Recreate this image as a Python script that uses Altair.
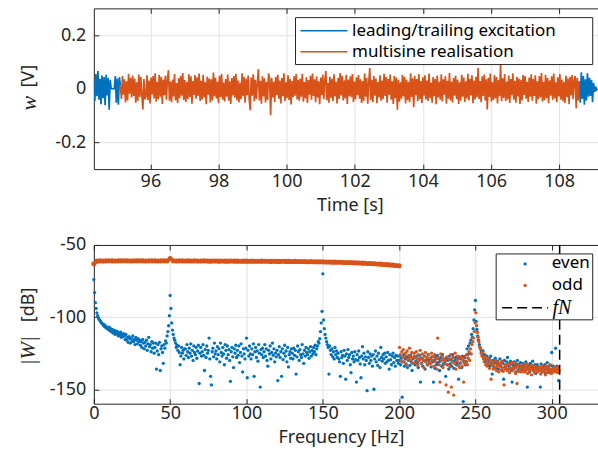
import altair as alt
import numpy as np
import pandas as pd

# ---------------- time-domain record (values in mV) ----------------
t_start = 94.34      # s, first sample visible
dt = 0.03            # s, spacing of the plotted samples

lead_mv = [30, -46, 55, -28, 66, -41, 37, -58, 49, -35, 44, -62, 52, -25, 40,
           -78, 33, 0, 0, 0, 0, 47, -52, 38, -60, 43, 12]

multisine_mv = [
    12, -38, 47, -22, 35, -51, 28, -44, 56, -19, 41, -33, 49, -27, 38, -52, 24, -46, 53, -31, 44, -25, -77, 36, -40,
    -28, 50, -43, 31, -55, 42, -21, 47, -36, 58, -48, 26, -39, 52, -30, 45, -57, 33, -24, 49, -41, 37, 69, -45, 27,
    -50, 34, -29, 55, -44, 21, -53, 40, -35, 48, -26, 59, -42, 32, -49, 25, -38, 54, -31, 46, -56, 29, -23, 51, -37,
    43, -27, 57, -46, 30, -40, 52, -33, 24, -58, 45, -22, 38, -51, 35, -44, 60, -29, 41, -36, 26, -54, 48, -32, 55,
    -41, 23, -48, 36, -30, 53, -45, 28, -57, 40, -25, 47, -34, 56, -43, 31, -50, 22, -39, 58, -28, 44, -52, 37, -24,
    49, -35, -80, 42, -26, 54, -47, 33, -38, 21, 73, -44, 30, -56, 46, -29, 39, -51, 25, -42, 57, 34, -99, 41, -33,
    27, -49, 44, -23, 52, -37, 31, -55, 40, -28, 58, -46, 24, -35, 50, -42, 36, -59, 29, -31, 47, -26, 55, -40, 33,
    -45, 38, -30, 56, -48, 25, -36, 43, -53, 32, -22, 49, -41, 57, -27, 35, -50, 46, -33, 28, -58, 42, -24, 53, -39,
    30, 66, -43, 22, -52, 45, -34, 37, -47, 54, -29, 26, -55, 41, -38, 59, -25, 48, -44, 31, -36, 52, -57, 34, -28,
    46, -32, 55, -49, 27, -40, 43, -24, 51, -37, 35, -53, 29, -46, 57, -30, 40, -56, 23, 77, -42, 32, -50, 47, -26,
    38, -54, 25, -33, 50, -45, 31, -39, 56, -27, 44, -52, 36, -22, 53, -41, 28, -57, 47, -35, 42, -78, 33, -48, 24,
    -37, 52, -29, 45, -55, 34, -43, 26, -50, 58, -31, 39, -69, 48, -24, 36, -47, 55, -38, 29, -53, 43, -26, 50, -40,
    31, -46, 57, -35, 23, -52, 44, -28, 37, -58, 49, -33, 26, -41, 54, -48, 35, -22, 46, -56, 30, -37, 59, -44, 27,
    -51, 40, -26, 48, -39, 33, -57, 24, -45, 52, -30, 42, -49, 28, -36, 56, -43, 37, -25, 50, -54, 31, -40, 45, -32,
    77, -38, 29, -50, 46, -27, 53, -44, 35, -77, 41, -31, 57, -48, 24, -42, 51, -36, 44, -55, 32, -28, 90, -47, 39,
    -34, 55, -46, 27, -40, 49, -53, 36, -25, 58, -41, 30, -52, 45, -29, 38, -57, 33, -44, 51, -23, 47, -37, 26, -49,
    42, -30, 54, -45, 36, -27, 50, -56, 28, -39, 47, -33, 59, -48, 25, -43, 52, -35, 40, -54, 31, -26, 46, -42, 57,
    -36, 24, -50, 43, -29, 55, -41, 34, -47, 26, -53, 48, -32, 38, -58, 45, -25, 51, -39, 30, 47, -73, 40, -44, 28,
]

trail_mv = [28, -52, 61, -38, 47, -60, 35, -44, 58, -30, 41, -27, 33, -50, 22,
            -12, 8, -4, 0]

# ---------------- spectrum (dB) ----------------
even_df_hz = 0.5                     # even lines, 0 ... 304.5 Hz
even_db = [
    -74, -83, -90, -94, -97, -99, -100.5, -101.5, -102.5, -103, -104, -104.5, -105.5, -105, -106.5, -106, -107.5, -107, -108, -108.5,
    -107, -109.5, -108, -110, -108.5, -111, -109, -110.5, -112, -109.5, -111.5, -110, -113, -111, -112.5, -110.5, -114, -112, -113.5, -111.5,
    -113, -115.5, -112, -116, -114, -117.5, -113.5, -115, -118, -114.5, -116.5, -113, -117, -115.5, -119, -114, -116, -118.5, -115, -117,
    -116, -119.5, -117, -121, -115.5, -118, -122, -117.5, -120, -116, -123, -118.5, -114, -120.5, -119, -124, -117, -121.5, -118, -125,
    -121, -118, -136, -123.5, -119, -126, -117.5, -137, -122, -120, -124.5, -132, -119, -121.5, -116.5, -118, -113, -110, -106, -99,
    -85, -94, -104, -109, -112, -114.5, -116, -118, -121, -119.5, -123, -120, -124.5, -133, -127, -121, -125, -123, -129, -122,
    -122, -126.5, -119, -124, -128, -121.5, -125, -118.5, -127, -123, -130, -120, -124.5, -126, -121, -128.5, -123.5, -119.5, -146, -125,
    -121, -127, -124, -119, -126.5, -137, -122.5, -128, -120, -125, -123, -114.5, -129, -141, -147, -124, -121.5, -127.5, -118, -125.5,
    -123.5, -129, -120.5, -126, -122, -131, -118, -124.5, -127, -121, -125.5, -133, -119, -123, -128.5, -120, -126, -122.5, -130, -144.5,
    -124, -121, -127.5, -135, -122, -125, -119.5, -128, -123, -126.5, -120, -131.5, -124.5, -118.5, -127, -138, -122, -125.5, -129, -121.5,
    -114.5, -142, -123, -127, -120, -125.5, -129, -122, -126, -118.5, -141, -124, -121, -128, -123.5, -130.5, -119, -125, -148.5, -122.5,
    -126, -121.5, -128, -124, -119, -127, -122, -130, -134, -123, -125.5, -120, -129, -124.5, -118, -126.5, -122, -131, -125, -127.5,
    -123, -144, -126, -120.5, -128, -124, -141, -122, -129.5, -125, -119.5, -127, -123.5, -131, -121, -134.5, -126, -124, -128.5, -122,
    -125, -129, -121.5, -126.5, -123, -139.5, -127.5, -120, -124, -130, -122.5, -126, -128, -119, -125.5, -132, -123, -127, -121, -124.5,
    -126, -122, -128.5, -124, -120.5, -127, -123, -125.5, -121, -124, -119.5, -126, -122, -120, -117, -118, -115, -110, -104, -96,
    -70, -102, -108, -112, -114.5, -117, -119, -121, -139.5, -120, -123, -126, -122, -127.5, -124, -129, -121, -126, -123.5, -128,
    -125, -129, -131, -141, -124, -128, -126.5, -132, -123, -127, -143, -125.5, -130, -122.5, -128, -126, -133, -138.5, -124.5, -129,
    -127, -131, -124, -129.5, -145, -126, -130, -123.5, -128, -132.5, -142, -127, -120.5, -129, -125, -133, -127.5, -130, -151, -124,
    -128, -132, -125.5, -130, -127, -134, -126, -150, -129, -123.5, -131, -127, -133.5, -125, -129.5, -135, -121, -128, -130.5, -126,
    -129, -125, -132, -127.5, -131, -124.5, -130, -136, -126, -129.5, -133, -127, -125, -131.5, -128, -134, -126.5, -130, -127, -132,
    -130, -127, -133, -128.5, -155.5, -131, -126, -134, -129, -132.5, -127.5, -135, -130, -128, -133.5, -126.5, -131, -137, -129, -132,
    -128, -133, -130.5, -127, -131.5, -135, -129, -126.5, -145, -132, -128.5, -134, -130, -127, -136, -131, -129.5, -133, -126, -130,
    -132, -129, -134.5, -127.5, -131, -145, -130, -135.5, -128, -133, -126.5, -131.5, -129, -137, -130.5, -128, -134, -126, -132.5, -129,
    -131, -141, -128.5, -133, -130, -136, -127, -132.5, -129.5, -134, -126, -131, -135.5, -130, -128, -133, -131.5, -129, -143, -127.5,
    -132, -129, -135, -127, -158.5, -130.5, -128, -133, -131, -122, -126, -120, -125, -118, -116, -112, -114, -108, -102, -95,
    -88.5, -103, -108.5, -113, -116, -119, -121, -122.5, -124, -126, -123.5, -128, -126, -129.5, -131, -127, -133, -130, -128.5, -134,
    -127, -132, -139.5, -130, -134.5, -131, -128.5, -135, -132, -130.5, -136, -133, -129, -134, -131.5, -137, -132, -143, -130, -135,
    -133.5, -131, -128, -136, -134, -132, -130.5, -137, -145, -133, -135.5, -131, -134, -138, -132.5, -130, -136.5, -133, -135, -131.5,
    -134, -136.5, -132, -135, -133, -137.5, -131, -134.5, -148.5, -136, -133.5, -138, -132, -135.5, -134, -130.5, -137, -135, -133, -139,
    -135, -133, -137, -134.5, -136, -148.5, -132.5, -138, -135.5, -134, -136.5, -133, -139, -135, -131.5, -137, -134, -136, -138.5, -133.5,
    -124.5, -136, -134, -137.5, -135, -121.5, -136.5, -134, -138, -144,
]

odd_line_df_hz = 2.0                 # excited odd lines, 0 ... 200 Hz
odd_line_db = [
    -63.0, -61.2, -61.0, -61.1, -61.0, -60.9, -61.0, -61.1, -61.0, -61.0,
    -60.9, -61.0, -61.1, -61.0, -61.0, -60.9, -61.0, -61.1, -61.0, -61.0,
    -61.0, -61.1, -61.0, -60.9, -61.0, -59.4, -61.0, -61.1, -61.0, -61.0,
    -61.1, -61.0, -61.1, -61.0, -61.1, -61.1, -61.0, -61.1, -61.2, -61.1,
    -61.1, -61.2, -61.1, -61.2, -61.2, -61.1, -61.2, -61.2, -61.3, -61.2,
    -61.2, -61.3, -61.2, -61.3, -61.3, -61.2, -61.3, -61.3, -61.4, -61.3,
    -61.4, -61.4, -61.3, -61.4, -61.4, -61.5, -61.4, -61.5, -61.5, -61.5,
    -61.6, -61.5, -61.6, -61.6, -61.7, -61.7, -61.8, -61.8, -61.9, -61.9,
    -62.0, -62.0, -62.1, -62.2, -62.2, -62.3, -62.4, -62.5, -62.6, -62.7,
    -62.8, -62.9, -63.0, -63.2, -63.3, -63.5, -63.6, -63.8, -64.0, -64.2,
    -64.4,
]

odd_noise_f0 = 200.25                # non-excited odd lines above 200 Hz
odd_noise_df_hz = 0.5
odd_noise_db = [
    -121, -126, -130.5, -124, -128, -122.5, -131, -127, -125, -133, -123.5, -129, -126.5, -121.5, -130, -127.5, -124.5, -132, -128, -125,
    -127, -131.5, -124, -129, -133.5, -126, -130, -123, -128.5, -132, -125.5, -129.5, -135, -127, -124.5, -130.5, -128, -133, -126, -131,
    -128.5, -132, -125, -130, -127.5, -134, -126, -131, -129, -136, -114.5, -128, -133, -145, -125.5, -130, -127, -135, -129.5, -132.5,
    -130, -147, -127.5, -133, -152, -129, -134.5, -126, -148.5, -131, -128, -154, -132, -125, -136, -130.5, -127, -133.5, -129, -135,
    -131.5, -128, -134, -129.5, -145, -132, -127, -130.5, -126, -133, -128.5, -124, -130, -122, -125.5, -119, -117, -114.5, -110, -104,
    -97, -106, -110.5, -114, -117, -120.5, -122, -125, -127, -124.5, -129, -131, -127.5, -133, -130, -134, -128.5, -132, -135.5, -130,
    -143, -133, -131, -136, -132.5, -135, -130, -137, -133.5, -131.5, -138, -134, -132, -136.5, -130.5, -135, -137.5, -147, -133, -136,
    -134, -137, -132.5, -136, -138.5, -133, -135.5, -131.5, -137, -134.5, -136, -132, -139, -135, -146, -133.5, -137.5, -134, -136.5, -138,
    -135, -137.5, -133, -136, -138, -134.5, -136.5, -132.5, -139, -135, -137, -134, -136, -140, -133.5, -137, -135.5, -138.5, -134, -136.5,
    -136, -138, -134.5, -137, -135, -139.5, -136.5, -133.5, -138, -135.5, -137, -140, -134, -136.5, -138.5, -135, -137.5, -133, -136, -139,
    -137, -135.5, -138, -136, -134.5, -137.5, -136, -138.5, -135, -137,
]

f_nyquist = 305.18

time_ticks = [96, 98, 100, 102, 104, 106, 108]
w_ticks = [-0.2, 0, 0.2]
freq_ticks = [0, 50, 100, 150, 200, 250, 300]
db_ticks = [-150, -100, -50]

top_legend_labels = ["leading/trailing excitation", "multisine realisation"]
bottom_legend_labels = ["even", "odd", "fN"]

# ---------------- styling ----------------
BLUE = "#0072BD"
ORANGE = "#D95319"
AXIS = "#262626"
GRID = "#e2e2e2"
SANS = "Noto Sans"
MATH = "Liberation Serif"
FS = 18
LFS = 17
W = 505
H1 = 161
H2 = 159

# ---------------- tables ----------------
k_lead = np.arange(len(lead_mv))
k_multi = np.arange(len(multisine_mv)) + len(lead_mv) - 1
k_trail = np.arange(len(trail_mv)) + k_multi[-1]


def seg(k, mv, name):
    return pd.DataFrame({"t": t_start + dt * k, "w": np.array(mv, dtype=float) / 1000.0, "seg": name})


blue_df = pd.concat([seg(k_lead, lead_mv, "lead"), seg(k_trail, trail_mv, "trail")], ignore_index=True)
multi_df = seg(k_multi, multisine_mv, "multi")

even_tbl = pd.DataFrame({"f": even_df_hz * np.arange(len(even_db)), "db": even_db})
odd_line_tbl = pd.DataFrame({"f": odd_line_df_hz * np.arange(len(odd_line_db)), "db": odd_line_db})
odd_noise_tbl = pd.DataFrame({"f": odd_noise_f0 + odd_noise_df_hz * np.arange(len(odd_noise_db)), "db": odd_noise_db})
fn_tbl = pd.DataFrame({"f": [f_nyquist]})
one = pd.DataFrame({"n": [0]})


def main_axis(vals, orient, pad):
    return alt.Axis(values=vals, orient=orient, title=None, grid=True, gridColor=GRID, gridWidth=1,
                    domain=True, domainColor=AXIS, domainWidth=1, ticks=False,
                    labels=True, labelFont=SANS, labelFontSize=FS, labelColor=AXIS,
                    labelPadding=pad, labelFlush=False, labelOverlap=False,
                    labelExpr="toString(datum.value)")


def tick_axis(vals, orient, offset, domain=False):
    return alt.Axis(values=vals, orient=orient, offset=offset, title=None, grid=False,
                    labels=False, ticks=True, tickSize=5, tickColor=AXIS, tickWidth=1,
                    domain=domain, domainColor=AXIS, domainWidth=1)


def txt(text, x, y, font=SANS, size=FS, style="normal", align="left", angle=0, color="black"):
    kw = dict(text=text, font=font, fontSize=size, fontStyle=style, align=align,
              baseline="middle", color=color)
    if angle:
        kw["angle"] = angle
    return alt.Chart(one).mark_text(**kw).encode(x=alt.value(x), y=alt.value(y))


# ---------------- top panel ----------------
xs_t = alt.Scale(domain=[94.34, 109.14], nice=False, zero=False)
ys_t = alt.Scale(domain=[-0.3, 0.3], nice=False, zero=False)

blue_line = alt.Chart(blue_df).mark_line(color=BLUE, strokeWidth=1.7, clip=True).encode(
    x=alt.X("t:Q", scale=xs_t, axis=main_axis(time_ticks, "bottom", 3)),
    y=alt.Y("w:Q", scale=ys_t, axis=main_axis(w_ticks, "left", 8)),
    detail="seg:N",
)
multi_line = alt.Chart(multi_df).mark_line(color=ORANGE, strokeWidth=1.7, clip=True).encode(
    x=alt.X("t:Q", scale=xs_t, axis=tick_axis(time_ticks, "top", -H1)),
    y=alt.Y("w:Q", scale=ys_t, axis=tick_axis(w_ticks, "right", -W)),
)
frame_top = alt.Chart(multi_df.head(1)).mark_point(opacity=0).encode(
    x=alt.X("t:Q", scale=xs_t, axis=tick_axis(time_ticks, "bottom", -H1, domain=True)),
    y=alt.Y("w:Q", scale=ys_t, axis=None),
)
leg_box_top = alt.Chart(one).mark_rect(fill="white", stroke=AXIS, strokeWidth=1).encode(
    x=alt.value(202), x2=alt.value(499.7), y=alt.value(9.3), y2=alt.value(56.3))
leg_l1 = alt.Chart(one).mark_rule(color=BLUE, strokeWidth=1.5).encode(
    x=alt.value(207), x2=alt.value(254), y=alt.value(22.5))
leg_l2 = alt.Chart(one).mark_rule(color=ORANGE, strokeWidth=1.5).encode(
    x=alt.value(207), x2=alt.value(254), y=alt.value(43.5))

top = alt.layer(
    blue_line, multi_line, frame_top, leg_box_top, leg_l1, leg_l2,
    txt(top_legend_labels[0], 258.7, 22.5, size=LFS),
    txt(top_legend_labels[1], 258.7, 43.5, size=LFS),
    txt("[V]", -65, 68, angle=270, align="center", color=AXIS),
    txt("w", -65, 95, font=MATH, size=22, style="italic", angle=270, align="center", color=AXIS),
    txt("Time [s]", 257, 198, align="center", color=AXIS),
).properties(width=W, height=H1).resolve_axis(x="independent", y="independent")

# ---------------- bottom panel ----------------
xs_f = alt.Scale(domain=[0, 330.3], nice=False, zero=False)
ys_f = alt.Scale(domain=[-160, -50], nice=False, zero=False)

even_pts = alt.Chart(even_tbl).mark_circle(color=BLUE, size=11, opacity=1).encode(
    x=alt.X("f:Q", scale=xs_f, axis=main_axis(freq_ticks, "bottom", 1)),
    y=alt.Y("db:Q", scale=ys_f, axis=main_axis(db_ticks, "left", 8)),
)
odd_noise_pts = alt.Chart(odd_noise_tbl).mark_circle(color=ORANGE, size=11, opacity=1).encode(
    x=alt.X("f:Q", scale=xs_f, axis=tick_axis(freq_ticks, "top", -H2)),
    y=alt.Y("db:Q", scale=ys_f, axis=tick_axis(db_ticks, "right", -W)),
)
odd_line_pts = alt.Chart(odd_line_tbl).mark_circle(color=ORANGE, size=26, opacity=1).encode(
    x=alt.X("f:Q", scale=xs_f, axis=tick_axis(freq_ticks, "bottom", -H2, domain=True)),
    y=alt.Y("db:Q", scale=ys_f, axis=None),
)
fn_rule = alt.Chart(fn_tbl).mark_rule(color="black", strokeDash=[10, 5], strokeWidth=1.5).encode(
    x=alt.X("f:Q", scale=xs_f, axis=None))

leg_box_bot = alt.Chart(one).mark_rect(fill="white", stroke=AXIS, strokeWidth=1).encode(
    x=alt.value(403), x2=alt.value(499.7), y=alt.value(9), y2=alt.value(75))
leg_even = alt.Chart(one).mark_circle(color=BLUE, size=11, opacity=1).encode(
    x=alt.value(432), y=alt.value(19))
leg_odd = alt.Chart(one).mark_circle(color=ORANGE, size=11, opacity=1).encode(
    x=alt.value(432), y=alt.value(40.5))
leg_fn = alt.Chart(one).mark_rule(color="black", strokeDash=[10, 5], strokeWidth=1.5).encode(
    x=alt.value(409), x2=alt.value(455), y=alt.value(63))

bottom = alt.layer(
    even_pts, odd_noise_pts, odd_line_pts, fn_rule, leg_box_bot, leg_even, leg_odd, leg_fn,
    txt(bottom_legend_labels[0], 458.7, 18.5, size=LFS),
    txt(bottom_legend_labels[1], 458.7, 40.5, size=LFS),
    txt(bottom_legend_labels[2], 459.5, 63.5, font=MATH, size=20, style="italic"),
    txt("[dB]", -65, 60, angle=270, align="center", color=AXIS),
    txt("|W|", -65, 106, font=MATH, size=21, style="italic", angle=270, align="center", color=AXIS),
    txt("Frequency [Hz]", 248, 193, align="center", color=AXIS),
).properties(width=W, height=H2).resolve_axis(x="independent", y="independent")

chart = alt.vconcat(top, bottom, spacing=76, bounds="flush").properties(
    padding={"left": 18, "top": 7, "right": 0, "bottom": 2}
).configure_view(stroke=None)

chart.save("out.html", embed_options={"renderer": "svg", "actions": False})
